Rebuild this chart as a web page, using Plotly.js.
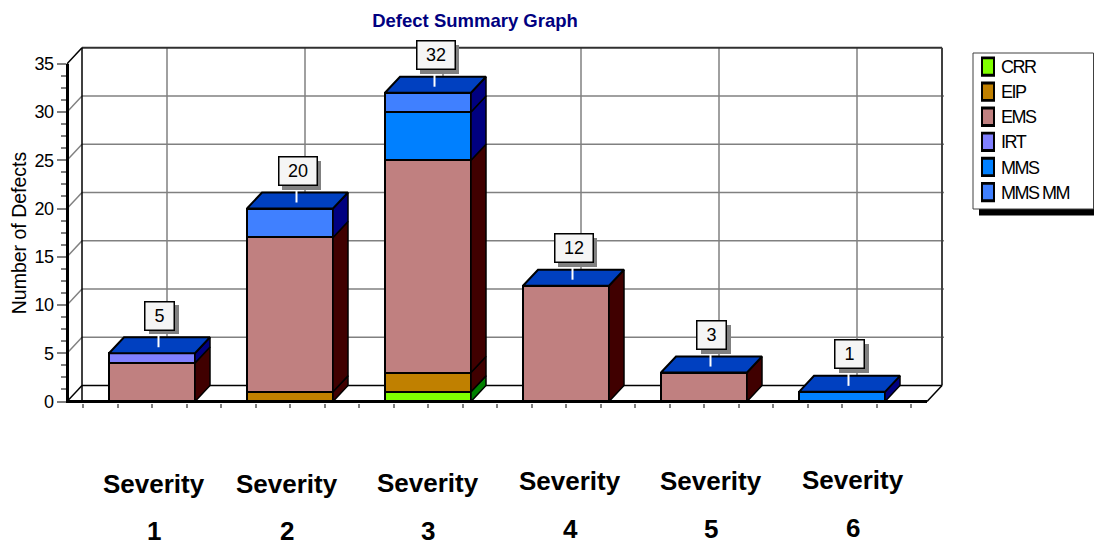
<!DOCTYPE html>
<html>
<head>
<meta charset="utf-8">
<script src="https://cdn.plot.ly/plotly-3.0.1.min.js"></script>
<style>
html,body{margin:0;padding:0;background:#fff;overflow:hidden}
.ytick text{letter-spacing:-0.6px}
.legendtext{font-size:18px !important;letter-spacing:-1.5px;transform:translateX(-7px)}
.legendpoints path{transform:translate(20px,0) scale(1,1.45) !important}
</style>
</head>
<body>
<div id="chart" style="width:1094px;height:541px"></div>
<script>
// ---- data ----
const categories = ['Severity 1','Severity 2','Severity 3','Severity 4','Severity 5','Severity 6'];
const seriesNames = ['CRR','EIP','EMS','IRT','MMS','MMS MM'];
const CRR   = [0,0,1,0,0,0];
const EIP   = [0,1,2,0,0,0];
const EMS   = [4,16,22,12,3,0];
const IRT   = [1,0,0,0,0,0];
const MMS   = [0,0,5,0,0,1];
const MMSMM = [0,3,2,0,0,0];
const yTicks = [0,5,10,15,20,25,30,35];

// ---- styles ----
const faceColors = ['#80ff00','#c08000','#c08080','#8080ff','#0080ff','#4080ff'];
const sideColors = ['#008000','#400000','#400000','#000080','#000080','#000080'];
const topColor = '#0040c0', grid = '#808080', FONT = '"Liberation Sans", Arial, sans-serif';

// ---- plot frame in pixels ----
const W = 1094, H = 541;
const L = 67, R = 944, T = 45, B = 421;
const y0px = 401.5, pxPerUnit = 9.65, cat1px = 152, pxPerCat = 138, barPx = 86;
const depthX = 15 / pxPerCat, depthY = 16 / pxPerUnit;
const xRange = [1 + (L - cat1px) / pxPerCat, 1 + (R - cat1px) / pxPerCat];
const yRange = [(y0px - B) / pxPerUnit, (y0px - T) / pxPerUnit];
const px2x = p => 1 + (p - cat1px) / pxPerCat;
const paperX = p => (p - L) / (R - L);
const paperY = p => (B - p) / (B - T);
const frontEnd = px2x(927), frontStart = xRange[0], yTop = 35;
const barW = barPx / pxPerCat;

const xs = categories.map((_, i) => i + 1);
const series = [CRR, EIP, EMS, IRT, MMS, MMSMM];
const totals = xs.map((_, i) => series.reduce((s, a) => s + a[i], 0));

const traces = [];
// front faces: real stacked bars
series.forEach((vals, k) => {
  traces.push({
    type:'bar', name:seriesNames[k], x:xs, y:vals.map(v => v === 0 ? null : v), width:barW,
    marker:{color:faceColors[k], line:{color:'#000', width:2}}, hoverinfo:'x+y+name'
  });
});
// side faces
series.forEach((vals, k) => {
  const px = [], py = [];
  xs.forEach((c, i) => {
    if (!vals[i]) return;
    let base = 0;
    for (let j = 0; j < k; j++) base += series[j][i];
    const t = base + vals[i], e = c + barW / 2;
    px.push(e, e + depthX, e + depthX, e, e, null);
    py.push(base, base + depthY, t + depthY, t, base, null);
  });
  traces.push({type:'scatter', mode:'lines', x:px, y:py, fill:'toself', fillcolor:sideColors[k],
    line:{color:'#000', width:1.5}, showlegend:false, hoverinfo:'skip'});
});
// top faces
{
  const px = [], py = [];
  xs.forEach((c, i) => {
    const a = c - barW / 2, b = c + barW / 2, t = totals[i];
    px.push(a, a + depthX, b + depthX, b, a, null);
    py.push(t, t + depthY, t + depthY, t, t, null);
  });
  traces.push({type:'scatter', mode:'lines', x:px, y:py, fill:'toself', fillcolor:topColor,
    line:{color:'#000', width:2}, showlegend:false, hoverinfo:'skip'});
}

// ---- walls and floor ----
const line = (x0, y0, x1, y1, color, width, layer) => ({type:'line', xref:'x', yref:'y', x0, y0, x1, y1,
  line:{color, width}, layer:layer || 'below'});
const shapes = [];
xs.forEach(c => shapes.push(line(c + depthX, depthY, c + depthX, yTop + depthY, grid, 1.5)));
yTicks.forEach(v => {
  if (v > 0 && v < 35) {
    shapes.push(line(frontStart + depthX, v + depthY, xRange[1], v + depthY, grid, 1.5));
    shapes.push(line(frontStart, v, frontStart + depthX, v + depthY, grid, 1.5));
  }
});
shapes.push(line(frontStart + depthX, yTop + depthY, frontEnd + depthX, yTop + depthY, '#303030', 2));
shapes.push(line(frontEnd + depthX, depthY, frontEnd + depthX, yTop + depthY, '#404040', 2));
shapes.push(line(frontStart + depthX, 0, frontStart + depthX, yTop + depthY, '#000', 1.5));
shapes.push(line(frontStart, 0, frontStart + depthX, depthY, '#000', 1.5));
shapes.push(line(frontStart + depthX, depthY, frontEnd + depthX, depthY, '#000', 1.5));
shapes.push(line(frontEnd, 0, frontEnd + depthX, depthY, '#000', 1.5));
shapes.push(line(frontStart, yTop, frontStart + depthX, yTop + depthY, '#000', 1.5));
// thick front axes
shapes.push(line(frontStart, 0, frontEnd, 0, '#000', 3, 'above'));
shapes.push({type:'line', xref:'paper', yref:'y', x0:paperX(67.5), x1:paperX(67.5), y0:-0.15, y1:yTop,
  line:{color:'#000', width:3}, layer:'above'});

// ---- legend frame ----
shapes.push({type:'rect', xref:'paper', yref:'paper', x0:paperX(979), x1:paperX(1094), y0:paperY(215.5), y1:paperY(200),
  fillcolor:'#000', line:{width:0}, layer:'below'});
shapes.push({type:'rect', xref:'paper', yref:'paper', x0:paperX(973), x1:paperX(1093.5), y0:paperY(209), y1:paperY(53),
  fillcolor:'#fff', line:{color:'#404040', width:1}, layer:'below'});

// ---- value callouts ----
const annotations = [];
const boxDx = 7.5 / pxPerCat, boxDy = 37.5 / pxPerUnit;
xs.forEach((c, i) => {
  const txt = String(totals[i]), w = txt.length > 1 ? 37 : 28;
  shapes.push(line(c + boxDx - 1 / pxPerCat, totals[i] + 6 / pxPerUnit, c + boxDx - 1 / pxPerCat, totals[i] + 18 / pxPerUnit, '#fff', 2, 'above'));
  annotations.push({xref:'x', yref:'y', x:c + boxDx, y:totals[i] + boxDy, xshift:4, yshift:-4, text:' ', showarrow:false,
    width:w, height:27, bgcolor:'#808080', borderpad:0, borderwidth:1, bordercolor:'#808080', font:{size:10, family:FONT}});
  annotations.push({xref:'x', yref:'y', x:c + boxDx, y:totals[i] + boxDy, text:txt, showarrow:false,
    width:w, height:27, bgcolor:'#f5f5f5', bordercolor:'#000', borderwidth:1.5, borderpad:0,
    font:{size:18, family:FONT, color:'#000'}});
});

// ---- category labels ----
const labelShift = [2,-3,0,4,7,11], labelTop = [484,484,483,481,481,480], labelBottom = [531,531,531,529,529,528];
categories.forEach((name, i) => {
  const [w1, w2] = name.split(' ');
  [[w1, labelTop[i]], [w2, labelBottom[i]]].forEach(([t, p]) => {
    annotations.push({xref:'x', yref:'paper', x:xs[i], xshift:labelShift[i], y:paperY(p), yanchor:'middle', xanchor:'center',
      text:t, showarrow:false, font:{size:26, family:FONT, color:'#000', weight:700}});
  });
});

const layout = {
  width:W, height:H, autosize:false, barmode:'stack', bargap:0,
  paper_bgcolor:'#fff', plot_bgcolor:'rgba(0,0,0,0)', showlegend:true, hovermode:'closest',
  margin:{l:L, r:W - R, t:T, b:H - B, pad:0},
  font:{family:FONT, color:'#000'},
  title:{text:'<b>Defect Summary Graph</b>', xref:'container', yref:'container', x:475/W, xanchor:'center', y:1 - 21/H, yanchor:'middle',
    font:{size:18.5, color:'#000080', family:FONT}},
  xaxis:{range:xRange, type:'linear', showgrid:false, zeroline:false, showline:false, anchor:'free', position:paperY(y0px + 1),
    tickmode:'array', tickvals:xs.flatMap(c => [c - 0.5, c - 0.25, c, c + 0.25]).concat([6.5]).filter(v => v > xRange[0]),
    ticktext:[], showticklabels:false, ticks:'outside', ticklen:4, tickwidth:1.5, tickcolor:grid, fixedrange:true},
  yaxis:{range:yRange, showgrid:false, zeroline:false, showline:false,
    tickmode:'array', tickvals:yTicks, ticks:'outside', ticklen:9, tickwidth:1.5, tickcolor:grid,
    tickfont:{size:18, family:FONT, color:'#000'}, fixedrange:true,
    minor:{tickmode:'array', tickvals:yTicks.slice(0,-1).flatMap(v => [v + 1.25, v + 2.5, v + 3.75]), ticks:'outside', ticklen:5, tickwidth:1.5, tickcolor:grid, showgrid:false},
    title:{text:'Number of Defects', standoff:2, font:{size:19.5, family:FONT, color:'#000'}}},
  legend:{x:paperX(968), xanchor:'left', y:paperY(49), yanchor:'top', traceorder:'normal', bgcolor:'rgba(0,0,0,0)', borderwidth:0,
    font:{size:17, family:FONT, color:'#000'}, itemclick:false, itemdoubleclick:false},
  shapes, annotations
};
Plotly.newPlot('chart', traces, layout, {displayModeBar:false, responsive:false});
</script>
</body>
</html>
